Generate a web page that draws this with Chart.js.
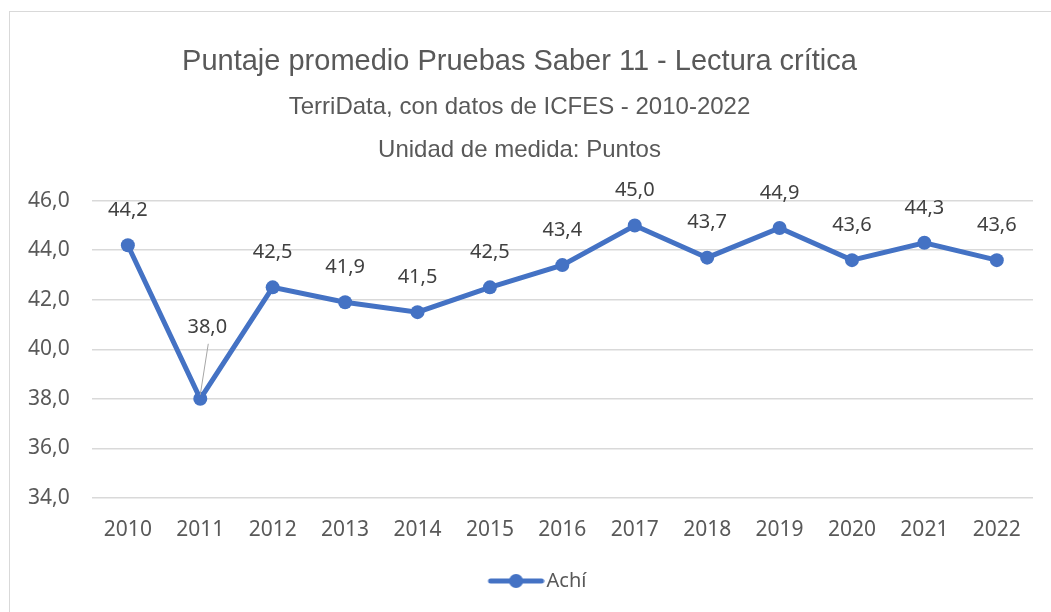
<!DOCTYPE html>
<html lang="es">

<head>
    <meta charset="utf-8" />
    <title>Puntaje promedio Pruebas Saber 11 - Lectura crítica</title>
    <script src="https://cdn.jsdelivr.net/npm/chart.js@4.4.0/dist/chart.umd.min.js"></script>
    <style>
        html, body {
            margin: 0;
            padding: 0;
            background: #fff;
            overflow: hidden;
        }

        #frame {
            position: absolute;
            left: 9px;
            top: 11px;
            width: 1200px;
            height: 800px;
            border: 1px solid #d9d9d9;
        }

        #wrap {
            position: absolute;
            left: 0;
            top: 0;
            width: 1051px;
            height: 612px;
        }
    </style>
</head>

<body>
    <div id="frame"></div>
    <div id="wrap">
        <canvas id="chart-saber"></canvas>
    </div>
</body>

<script>
    const years = ['2010', '2011', '2012', '2013', '2014', '2015', '2016', '2017', '2018', '2019', '2020', '2021', '2022'];
    const achiScores = [44.2, 38.0, 42.5, 41.9, 41.5, 42.5, 43.4, 45.0, 43.7, 44.9, 43.6, 44.3, 43.6];
    const seriesName = 'Achí';
    const titleText = 'Puntaje promedio Pruebas Saber 11 - Lectura crítica';
    const subtitleLines = ['TerriData, con datos de ICFES - 2010-2022', 'Unidad de medida: Puntos'];

    const blue = '#4472C4';
    const fmt = v => v.toFixed(1).replace('.', ',');

    // legend marker: short line with a dot, drawn right of centre so the
    // legend item sits where the original one does
    const _legendIcon = (() => {
        const c = document.createElement('canvas');
        c.width = 100;
        c.height = 16;
        const g = c.getContext('2d');
        g.strokeStyle = blue;
        g.lineWidth = 5;
        g.lineCap = 'round';
        g.beginPath();
        g.moveTo(46, 8);
        g.lineTo(97, 8);
        g.stroke();
        g.fillStyle = blue;
        g.beginPath();
        g.arc(71.5, 8, 7, 0, Math.PI * 2);
        g.fill();
        return c;
    })();

    // value labels above the points (2011 gets pushed up with a leader line)
    const valueLabels = {
        id: 'valueLabels',
        afterDatasetsDraw(chart) {
            const ctx = chart.ctx;
            const meta = chart.getDatasetMeta(0);
            ctx.save();
            ctx.font = '20px "Noto Sans"';
            ctx.fillStyle = '#404040';
            ctx.textAlign = 'center';
            ctx.textBaseline = 'middle';
            meta.data.forEach((pt, i) => {
                const v = chart.data.datasets[0].data[i];
                if (i === 1) {
                    ctx.strokeStyle = '#a6a6a6';
                    ctx.lineWidth = 1;
                    ctx.beginPath();
                    ctx.moveTo(pt.x + 8, pt.y - 55);
                    ctx.lineTo(pt.x, pt.y - 4);
                    ctx.stroke();
                    ctx.fillText(fmt(v), pt.x + 7, pt.y - 71);
                } else {
                    ctx.fillText(fmt(v), pt.x, pt.y - 35);
                }
            });
            ctx.restore();
        }
    };

    const _ctx = document.getElementById('chart-saber').getContext('2d');
    const _chart = new Chart(_ctx, {
        type: 'line',
        data: {
            labels: years,
            datasets: [{
                label: seriesName,
                data: achiScores,
                borderColor: blue,
                backgroundColor: blue,
                borderWidth: 5,
                pointRadius: 7,
                pointHoverRadius: 7,
                pointBackgroundColor: blue,
                pointBorderWidth: 0,
                tension: 0
            }]
        },
        options: {
            responsive: true,
            maintainAspectRatio: false,
            animation: false,
            layout: {
                padding: { top: 45, left: 6, right: 18, bottom: 11 }
            },
            plugins: {
                title: {
                    display: true,
                    text: titleText,
                    color: '#595959',
                    font: { family: '"Liberation Sans", Arial, sans-serif', size: 29, weight: 'normal' },
                    padding: { top: 0, bottom: 6 }
                },
                subtitle: {
                    display: true,
                    text: subtitleLines,
                    color: '#595959',
                    font: { family: '"Liberation Sans", Arial, sans-serif', size: 24, lineHeight: 1.79 },
                    padding: { top: 0, bottom: 29 }
                },
                legend: {
                    position: 'bottom',
                    labels: {
                        usePointStyle: true,
                        pointStyle: _legendIcon,
                        pointStyleWidth: 84,
                        color: '#595959',
                        font: { family: '"Noto Sans"', size: 20 },
                        padding: 16
                    }
                },
                tooltip: { enabled: false }
            },
            scales: {
                x: {
                    offset: true,
                    grid: { display: false },
                    border: { display: false },
                    ticks: {
                        color: '#595959',
                        font: { family: '"Noto Sans"', size: 21 },
                        padding: 12
                    }
                },
                y: {
                    min: 34,
                    max: 46,
                    grid: { color: '#d9d9d9', lineWidth: 1.5, drawTicks: false },
                    border: { display: false },
                    ticks: {
                        stepSize: 2,
                        color: '#595959',
                        font: { family: '"Noto Sans"', size: 21 },
                        padding: 22,
                        callback: v => fmt(v)
                    }
                }
            }
        },
        plugins: [valueLabels]
    });
</script>

</html>
